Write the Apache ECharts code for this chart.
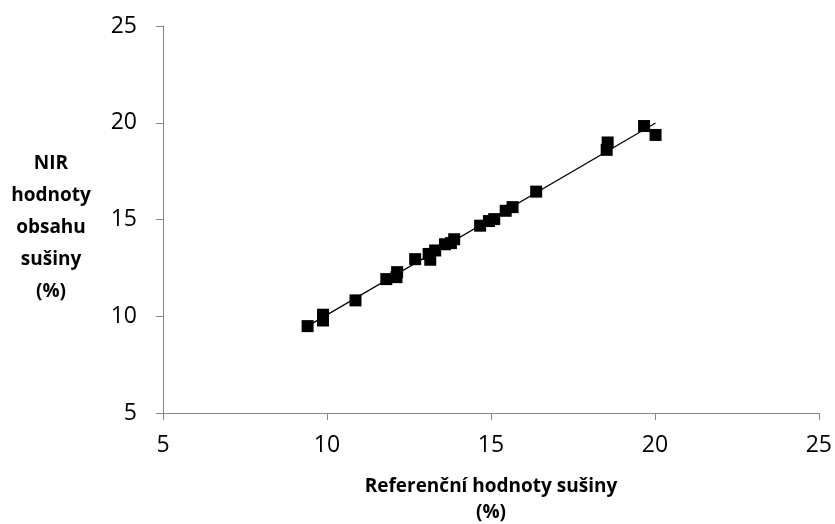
<!DOCTYPE html>
<html>
<head>
<meta charset="utf-8">
<script src="https://cdn.jsdelivr.net/npm/echarts@6/dist/echarts.min.js"></script>
<style>
  html, body { margin: 0; padding: 0; background: #fff; }
  #chart { width: 835px; height: 524px; }
</style>
</head>
<body>
<div id="chart"></div>
<script>
// Reference dry-matter values (%)
const refValues = [9.41, 9.88, 9.88, 10.87, 11.81, 12.12, 12.14, 12.69, 13.15, 13.1, 13.3,
  13.6, 13.78, 13.88, 14.67, 14.94, 15.1, 15.45, 15.66, 16.38, 18.53, 18.56, 19.67, 20.02];
// NIR-predicted dry-matter values (%)
const nirValues = [9.49, 9.78, 10.08, 10.82, 11.92, 12.02, 12.28, 12.95, 12.92, 13.22, 13.4,
  13.72, 13.78, 13.98, 14.68, 14.92, 15.02, 15.45, 15.64, 16.44, 18.6, 18.98, 19.83, 19.37];

const axisTicks = [5, 10, 15, 20, 25];
const xTitle = ['Referenční hodnoty sušiny', '(%)'];
const yTitle = ['NIR', 'hodnoty', 'obsahu', 'sušiny', '(%)'];

const points = refValues.map((x, i) => [x, nirValues[i]]);

// Least-squares trend line across the observed range
const n = refValues.length;
const mx = refValues.reduce((a, b) => a + b, 0) / n;
const my = nirValues.reduce((a, b) => a + b, 0) / n;
let sxy = 0, sxx = 0;
for (let i = 0; i < n; i++) {
  sxy += (refValues[i] - mx) * (nirValues[i] - my);
  sxx += (refValues[i] - mx) ** 2;
}
const slope = sxy / sxx;
const intercept = my - slope * mx;
const xMin = Math.min(...refValues), xMax = Math.max(...refValues);
const trend = [[xMin, intercept + slope * xMin], [xMax, intercept + slope * xMax]];

const FONT = '"Open Sans", "Liberation Sans", sans-serif';
const axisCommon = {
  type: 'value',
  min: axisTicks[0],
  max: axisTicks[axisTicks.length - 1],
  interval: 5,
  splitLine: { show: false },
  axisLine: { show: true, lineStyle: { color: '#868686', width: 1 } },
  axisTick: { show: true, length: 7, lineStyle: { color: '#868686' } },
  axisLabel: { color: '#000', fontSize: 23, fontFamily: FONT }
};

const chart = echarts.init(document.getElementById('chart'), null, { renderer: 'canvas' });
chart.setOption({
  backgroundColor: '#fff',
  animation: false,
  grid: { left: 163, right: 14, top: 26, bottom: 111 },
  xAxis: Object.assign({}, axisCommon, {
    axisLabel: Object.assign({}, axisCommon.axisLabel, { margin: 21 })
  }),
  yAxis: Object.assign({}, axisCommon, {
    axisLabel: Object.assign({}, axisCommon.axisLabel, { margin: 26 })
  }),
  graphic: [
    {
      type: 'text', x: 491, y: 500,
      style: {
        text: xTitle.join('\n'), fill: '#000', font: 'bold 19px ' + FONT,
        align: 'center', verticalAlign: 'middle', lineHeight: 26
      }
    },
    {
      type: 'text', x: 51, y: 228,
      style: {
        text: yTitle.join('\n'), fill: '#000', font: 'bold 19px ' + FONT,
        align: 'center', verticalAlign: 'middle', lineHeight: 32
      }
    }
  ],
  series: [
    {
      type: 'line',
      data: trend,
      symbol: 'none',
      lineStyle: { color: '#000', width: 1.2 },
      z: 1
    },
    {
      type: 'scatter',
      data: points,
      symbol: 'rect',
      symbolSize: 12,
      itemStyle: { color: '#000', opacity: 1 },
      z: 2
    }
  ]
});
</script>
</body>
</html>
